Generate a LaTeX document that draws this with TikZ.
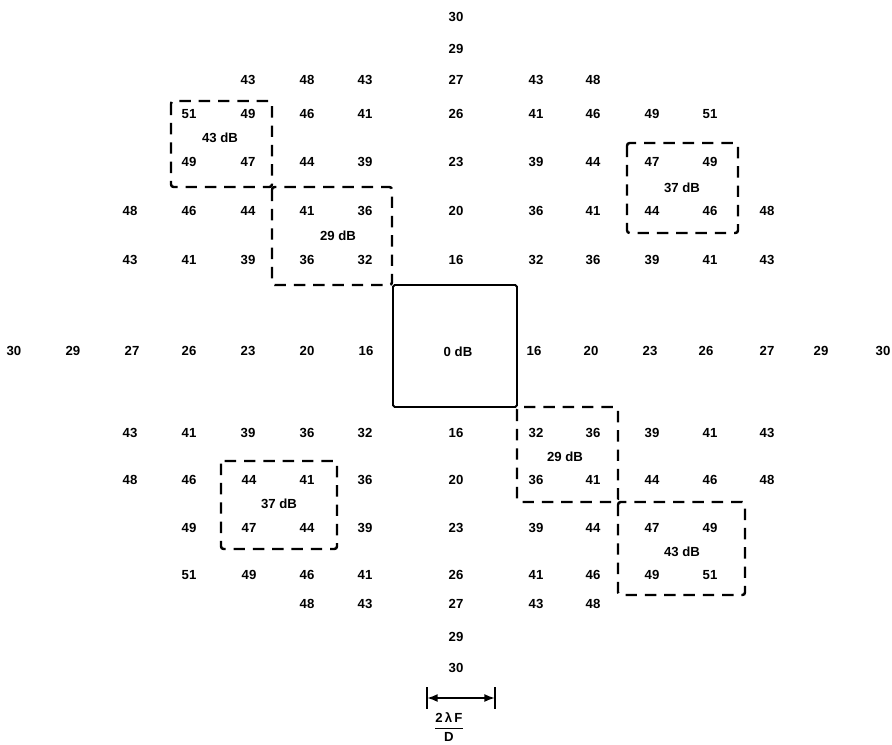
\documentclass[tikz,border=0pt]{standalone}
\usepackage{fontspec}
\setmainfont{Liberation Sans}
\usetikzlibrary{arrows.meta}

\begin{document}
\begin{tikzpicture}[x=0.02cm, y=-0.02cm, >={Latex[length=6pt,width=4.5pt]},
    val/.style={font=\fontsize{7.5}{9}\selectfont\bfseries, inner sep=1pt},
    dashbox/.style={draw, line width=1.4pt, dash pattern=on 6.5pt off 4.5pt, rounded corners=1.5pt},
    solidbox/.style={draw, line width=1.1pt, rounded corners=1pt}]
    \useasboundingbox (0,0) rectangle (892,744);

    % boxes
    \draw[solidbox] (393,285) rectangle (517,407);
    \draw[dashbox] (171,101) rectangle (272,187);
    \draw[dashbox] (272,187) rectangle (392,285);
    \draw[dashbox] (627,143) rectangle (738,233);
    \draw[dashbox] (517,407) rectangle (618,502);
    \draw[dashbox] (618,502) rectangle (745,595);
    \draw[dashbox] (221,461) rectangle (337,549);

    % values, row by row
    \node[val] (top30) at (456,17) {30};
    \node[val] (top29) at (456,49) {29};
    \foreach \x/\v in {248/43, 307/48, 365/43, 456/27, 536/43, 593/48}
        \node[val] (a\x) at (\x,80) {\v};
    \foreach \x/\v in {189/51, 248/49, 307/46, 365/41, 456/26, 536/41, 593/46, 652/49, 710/51}
        \node[val] (b\x) at (\x,114) {\v};
    \foreach \x/\v in {189/49, 248/47, 307/44, 365/39, 456/23, 536/39, 593/44, 652/47, 710/49}
        \node[val] (c\x) at (\x,162) {\v};
    \foreach \x/\v in {130/48, 189/46, 248/44, 307/41, 365/36, 456/20, 536/36, 593/41, 652/44, 710/46, 767/48}
        \node[val] (d\x) at (\x,211) {\v};
    \foreach \x/\v in {130/43, 189/41, 248/39, 307/36, 365/32, 456/16, 536/32, 593/36, 652/39, 710/41, 767/43}
        \node[val] (e\x) at (\x,260) {\v};
    \foreach \x/\v in {14/30, 73/29, 132/27, 189/26, 248/23, 307/20, 366/16, 534/16, 591/20, 650/23, 706/26, 767/27, 821/29, 883/30}
        \node[val] (m\x) at (\x,351) {\v};
    \foreach \x/\v in {130/43, 189/41, 248/39, 307/36, 365/32, 456/16, 536/32, 593/36, 652/39, 710/41, 767/43}
        \node[val] (f\x) at (\x,433) {\v};
    \foreach \x/\v in {130/48, 189/46, 249/44, 307/41, 365/36, 456/20, 536/36, 593/41, 652/44, 710/46, 767/48}
        \node[val] (g\x) at (\x,480) {\v};
    \foreach \x/\v in {189/49, 249/47, 307/44, 365/39, 456/23, 536/39, 593/44, 652/47, 710/49}
        \node[val] (h\x) at (\x,528) {\v};
    \foreach \x/\v in {189/51, 249/49, 307/46, 365/41, 456/26, 536/41, 593/46, 652/49, 710/51}
        \node[val] (i\x) at (\x,575) {\v};
    \foreach \x/\v in {307/48, 365/43, 456/27, 536/43, 593/48}
        \node[val] (j\x) at (\x,604) {\v};
    \node[val] (bot29) at (456,637) {29};
    \node[val] (bot30) at (456,668) {30};

    % box labels
    \node[val] (main) at (458,352) {0 dB};
    \node[val] (tl43) at (220,138) {43 dB};
    \node[val] (tl29) at (338,236) {29 dB};
    \node[val] (tr37) at (682,188) {37 dB};
    \node[val] (br29) at (565,457) {29 dB};
    \node[val] (br43) at (682,552) {43 dB};
    \node[val] (bl37) at (279,504) {37 dB};

    % scale
    \coordinate (sl) at (427,698);
    \coordinate (sr) at (495,698);
    \draw[line width=1pt] ([yshift=-6]sl) -- ([yshift=6]sl);
    \draw[line width=1pt] ([yshift=-6]sr) -- ([yshift=6]sr);
    \draw[<->, line width=1pt] (sl) -- (sr);
    \node[val] (unit) at (449,727) {$\displaystyle\frac{\mbox{2\,λ\,F}}{\mbox{D}}$};
\end{tikzpicture}
\end{document}
